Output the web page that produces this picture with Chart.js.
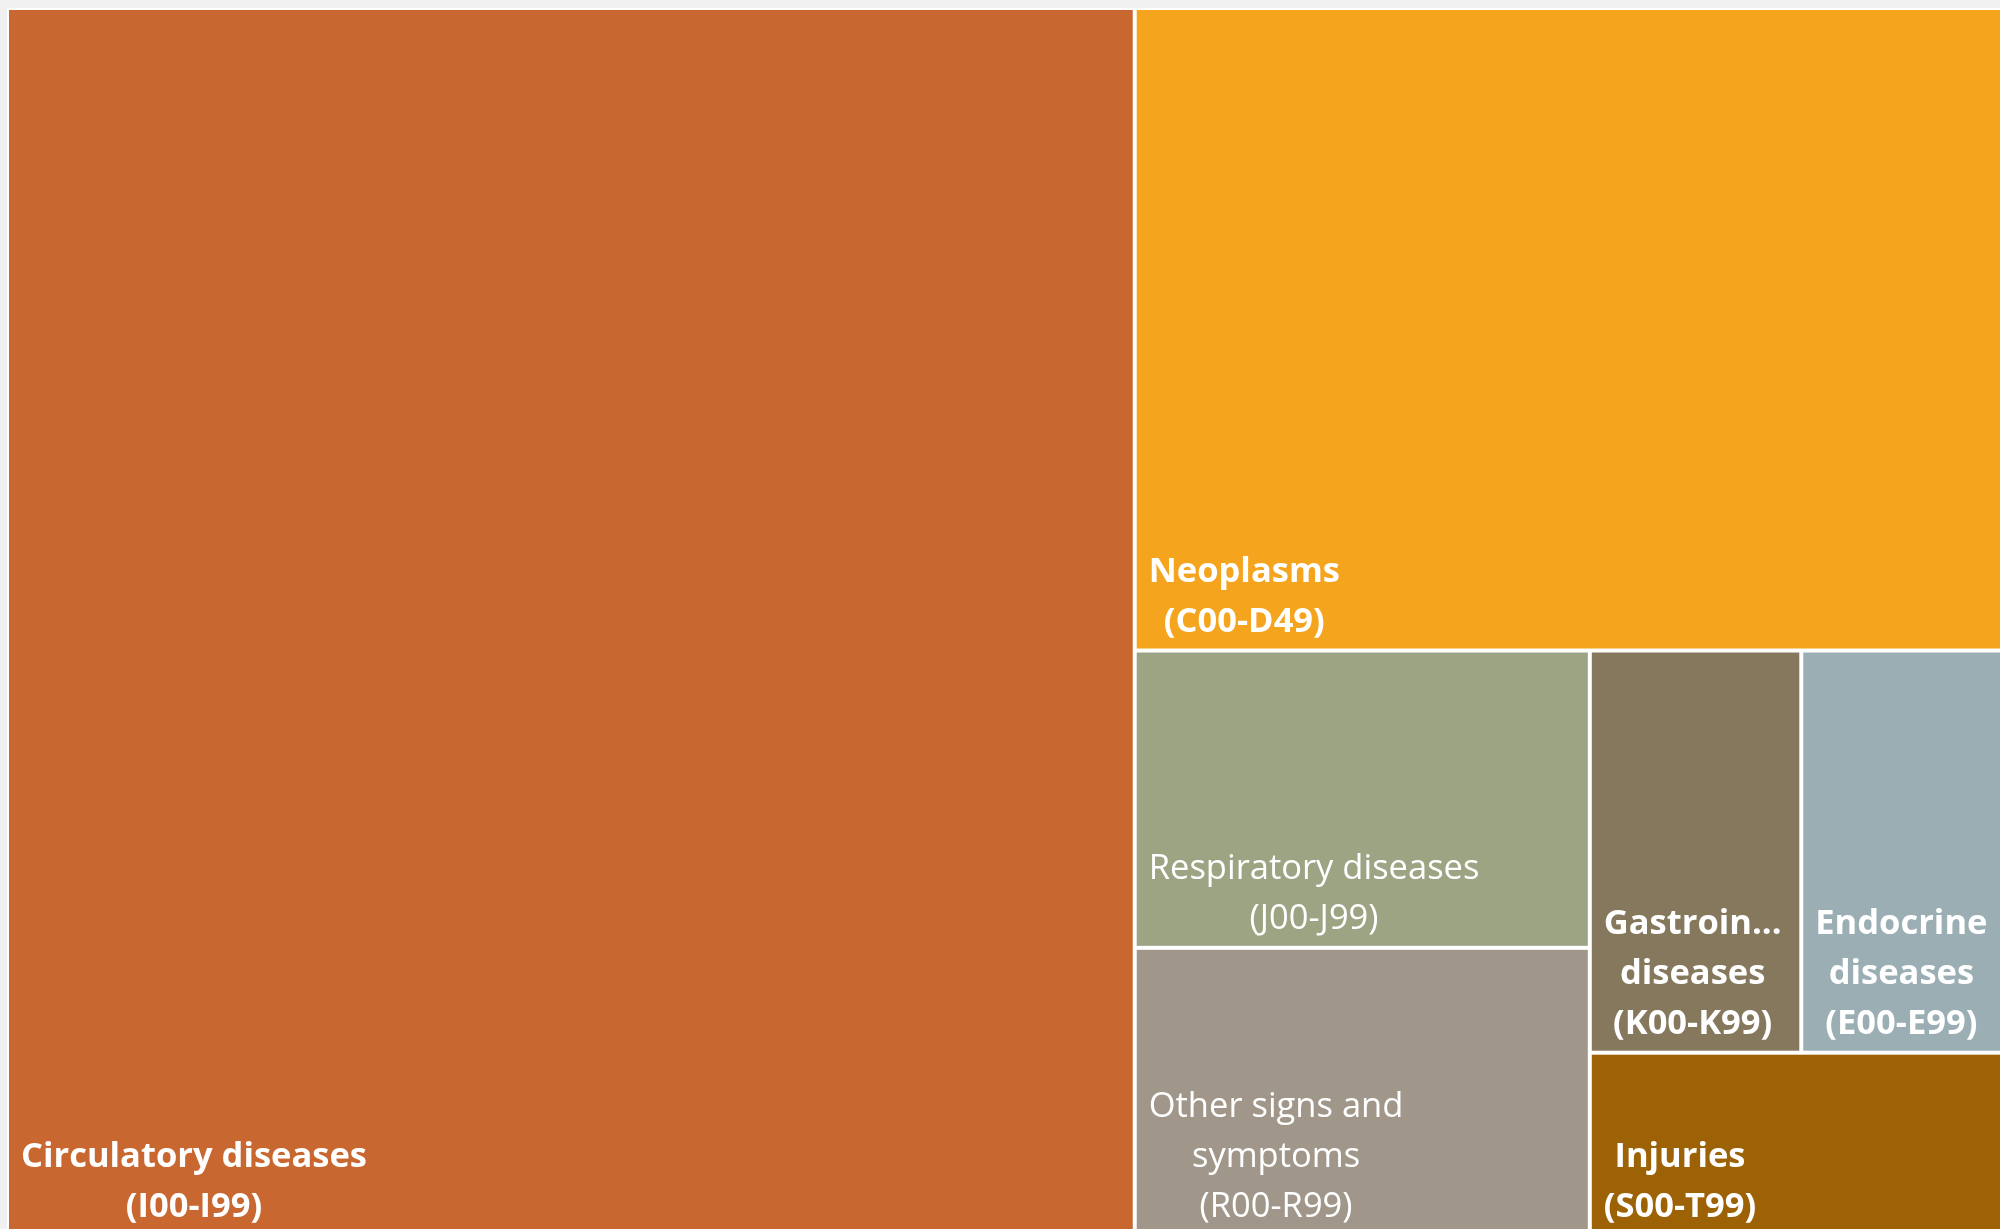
<!DOCTYPE html>
<html>
<head>
<meta charset="utf-8">
<script src="https://cdn.jsdelivr.net/npm/chart.js@4.4.1/dist/chart.umd.min.js"></script>
<style>
  html, body { margin: 0; padding: 0; background: #f0f0f0; overflow: hidden; width: 2000px; height: 1229px; }
  #wrap { position: absolute; left: 7px; top: 8px; width: 1996px; height: 1228px; background: #ffffff; }
  canvas { display: block; }
</style>
</head>
<body>
<div id="wrap"><canvas id="c" width="1996" height="1228"></canvas></div>
<script>
// ---- data (share of deaths, %) ----
const categories = [
  "Circulatory diseases",
  "Neoplasms",
  "Respiratory diseases",
  "Other signs and symptoms",
  "Gastrointestinal diseases",
  "Endocrine diseases",
  "Injuries"
];
const codes = ["(I00-I99)", "(C00-D49)", "(J00-J99)", "(R00-R99)", "(K00-K99)", "(E00-E99)", "(S00-T99)"];
const values = [56.50, 22.76, 5.52, 5.35, 3.47, 3.31, 3.09];
const labelLines = [
  ["Circulatory diseases", "(I00-I99)"],
  ["Neoplasms", "(C00-D49)"],
  ["Respiratory diseases", "(J00-J99)"],
  ["Other signs and", "symptoms", "(R00-R99)"],
  ["Gastrointestinal", "diseases", "(K00-K99)"],
  ["Endocrine", "diseases", "(E00-E99)"],
  ["Injuries", "(S00-T99)"]
];
const colors = ["#C86730", "#F5A41E", "#9DA483", "#A0978A", "#86785D", "#9BAEB4", "#9E6206"];
const boldLabels = [true, true, false, false, true, true, true];

// ---- squarified treemap layout (in abstract units w x h) ----
function worst(row, side) {
  const s = row.reduce((a, b) => a + b, 0);
  const mx = Math.max(...row), mn = Math.min(...row);
  return Math.max(side * side * mx / (s * s), (s * s) / (side * side * mn));
}
function squarify(vals, W, H) {
  const total = vals.reduce((a, b) => a + b, 0);
  const areas = vals.map(v => v * W * H / total);
  const rects = [];
  let x = 0, y = 0, w = W, h = H, i = 0;
  while (i < areas.length) {
    const side = Math.min(w, h);
    const row = [areas[i]];
    let j = i + 1;
    while (j < areas.length && worst(row.concat([areas[j]]), side) <= worst(row, side)) {
      row.push(areas[j]); j++;
    }
    const rs = row.reduce((a, b) => a + b, 0);
    if (w >= h) {
      const t = rs / h; let yy = y;
      row.forEach(a => { const hh = a / t; rects.push({ x0: x, y0: yy, x1: x + t, y1: yy + hh }); yy += hh; });
      x += t; w -= t;
    } else {
      const t = rs / w; let xx = x;
      row.forEach(a => { const ww = a / t; rects.push({ x0: xx, y0: y, x1: xx + ww, y1: y + t }); xx += ww; });
      y += t; h -= t;
    }
    i = j;
  }
  return rects;
}

const FONT_FAMILY = "'Open Sans', 'Noto Sans', sans-serif";
const FONT_SIZE = 34.5;
const LINE_H = 50;
const PAD = 12;
const INSET = 2;

function fitLine(ctx, text, maxW) {
  if (ctx.measureText(text).width <= maxW) return text;
  let t = text;
  while (t.length > 1 && ctx.measureText(t + "...").width > maxW) t = t.slice(0, -1);
  return t + "...";
}

const treemapPlugin = {
  id: 'treemapCells',
  afterDatasetsDraw(chart) {
    const ctx = chart.ctx;
    const xs = chart.scales.x, ys = chart.scales.y;
    const area = chart.chartArea;
    const W = area.right - area.left, H = area.bottom - area.top;
    const rects = squarify(values, W, H);
    ctx.save();
    rects.forEach((r, i) => {
      const left = xs.getPixelForValue(r.x0 / W) + INSET;
      const right = xs.getPixelForValue(r.x1 / W) - INSET;
      const top = ys.getPixelForValue(r.y0 / H) + INSET;
      const bottom = ys.getPixelForValue(r.y1 / H) - INSET;
      ctx.fillStyle = colors[i];
      ctx.fillRect(left, top, right - left, bottom - top);

      // label
      ctx.font = (boldLabels[i] ? "bold " : "") + FONT_SIZE + "px " + FONT_FAMILY;
      const maxW = (right - left) - 2 * PAD + 4;
      const lines = labelLines[i].map(l => fitLine(ctx, l, maxW));
      const blockW = Math.max(...lines.map(l => ctx.measureText(l).width));
      const cx = left + PAD + blockW / 2;
      ctx.fillStyle = "#ffffff";
      ctx.textAlign = "center";
      ctx.textBaseline = "alphabetic";
      ctx.save();
      ctx.beginPath();
      ctx.rect(left, top, right - left, bottom - top);
      ctx.clip();
      const lastBase = bottom - 17;
      lines.forEach((l, k) => {
        const by = lastBase - (lines.length - 1 - k) * LINE_H;
        ctx.fillText(l, cx, by);
      });
      ctx.restore();
    });
    ctx.restore();
  }
};

new Chart(document.getElementById('c'), {
  type: 'scatter',
  data: {
    datasets: [{ label: 'Share of deaths', data: [], pointRadius: 0 }]
  },
  options: {
    responsive: false,
    animation: false,
    layout: { padding: 0 },
    plugins: { legend: { display: false }, tooltip: { enabled: false } },
    scales: {
      x: { type: 'linear', min: 0, max: 1, display: false },
      y: { type: 'linear', min: 0, max: 1, reverse: true, display: false }
    }
  },
  plugins: [treemapPlugin]
});
</script>
</body>
</html>
